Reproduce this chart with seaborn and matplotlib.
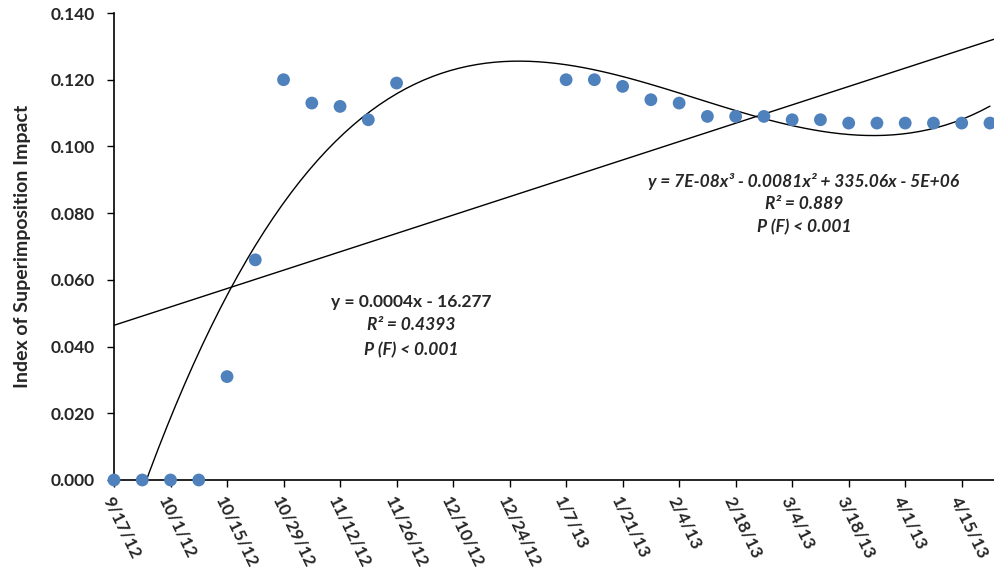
import numpy as np
import pandas as pd
import matplotlib
matplotlib.use("Agg")
import matplotlib.pyplot as plt
import matplotlib.ticker as mticker
import seaborn as sns

# ---- data ----
dates = ["2012-09-17", "2012-09-24", "2012-10-01", "2012-10-08", "2012-10-15", "2012-10-22",
         "2012-10-29", "2012-11-05", "2012-11-12", "2012-11-19", "2012-11-26",
         "2013-01-07", "2013-01-14", "2013-01-21", "2013-01-28", "2013-02-04", "2013-02-11",
         "2013-02-18", "2013-02-25", "2013-03-04", "2013-03-11", "2013-03-18", "2013-03-25",
         "2013-04-01", "2013-04-08", "2013-04-15", "2013-04-22"]
impact = [0.000, 0.000, 0.000, 0.000, 0.031, 0.066,
          0.120, 0.113, 0.112, 0.108, 0.119,
          0.120, 0.120, 0.118, 0.114, 0.113, 0.109,
          0.109, 0.109, 0.108, 0.108, 0.107, 0.107,
          0.107, 0.107, 0.107, 0.107]
tick_dates = ["2012-09-17", "2012-10-01", "2012-10-15", "2012-10-29", "2012-11-12", "2012-11-26",
              "2012-12-10", "2012-12-24", "2013-01-07", "2013-01-21", "2013-02-04", "2013-02-18",
              "2013-03-04", "2013-03-18", "2013-04-01", "2013-04-15"]
lin_label = ["y = 0.0004x - 16.277", "R² = 0.4393", "P (F) < 0.001"]
cub_label = ["y = 7E-08x³ - 0.0081x² + 335.06x - 5E+06", "R² = 0.889", "P (F) < 0.001"]

start = pd.Timestamp(dates[0])
df = pd.DataFrame({"date": pd.to_datetime(dates), "impact": impact})
df["day"] = (df["date"] - start).dt.days
ticks_day = [(pd.Timestamp(t) - start).days for t in tick_dates]

sns.set_theme(style="white")
plt.rcParams["font.family"] = ["Lato", "DejaVu Sans"]
plt.rcParams["font.weight"] = "bold"

fig = plt.figure(figsize=(9.95, 5.69), dpi=100)
ax = fig.add_axes([114 / 995, 1 - 480 / 569, 1 - 114 / 995 - 0.001, (480 - 13) / 569])
ax.set_xlim(0, 218)
ax.set_ylim(0, 0.14)

# trend lines
sns.regplot(data=df, x="day", y="impact", order=1, ci=None, scatter=False, truncate=False,
            line_kws=dict(color="black", lw=1.0), ax=ax)
ax.set_xlim(0, 218)
sns.regplot(data=df, x="day", y="impact", order=3, ci=None, scatter=False, truncate=True,
            line_kws=dict(color="black", lw=1.0), ax=ax)
ax.set_xlim(0, 218)
ax.set_ylim(0, 0.14)

sns.scatterplot(data=df, x="day", y="impact", color="#4F81BD", s=85, edgecolor="none",
                zorder=5, clip_on=False, ax=ax)

ax.set_xticks(ticks_day)
ax.set_xticklabels([f"{pd.Timestamp(t).month}/{pd.Timestamp(t).day}/{pd.Timestamp(t).strftime('%y')}"
                    for t in tick_dates], rotation=-64, ha="left", va="top",
                   rotation_mode="anchor", fontsize=12.5, fontweight="bold")
ax.set_yticks(np.arange(0, 0.1401, 0.02))
ax.yaxis.set_major_formatter(mticker.FormatStrFormatter("%.3f"))
for lab in ax.get_yticklabels():
    lab.set_fontsize(12.5)
    lab.set_fontweight("bold")

ax.tick_params(axis="both", direction="out", length=5, width=1, color="black",
               bottom=True, left=True)
ax.tick_params(axis="y", pad=9)
ax.tick_params(axis="x", pad=5)
for s in ["top", "right"]:
    ax.spines[s].set_visible(False)
for s in ["left", "bottom"]:
    ax.spines[s].set_color("black")
    ax.spines[s].set_linewidth(1.2)
ax.grid(False)

ax.set_xlabel("")
ax.set_ylabel("Index of Superimposition Impact", fontsize=14, fontweight="bold", labelpad=14)

# equation texts
ax.text(0.338, 0.381, lin_label[0], transform=ax.transAxes, ha="center", va="center",
        fontsize=12.5, fontweight="bold")
ax.text(0.338, 0.332, lin_label[1], transform=ax.transAxes, ha="center", va="center",
        fontsize=12.5, fontweight="bold", style="italic")
ax.text(0.338, 0.278, lin_label[2], transform=ax.transAxes, ha="center", va="center",
        fontsize=12.5, fontweight="bold", style="italic")
for i, yy in enumerate([0.640, 0.591, 0.542]):
    ax.text(0.784, yy, cub_label[i], transform=ax.transAxes, ha="center", va="center",
            fontsize=12.5, fontweight="bold", style="italic")

fig.savefig("out.png", dpi=100)
